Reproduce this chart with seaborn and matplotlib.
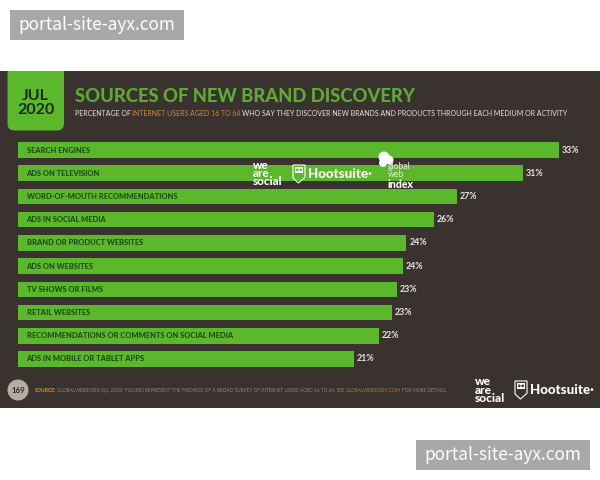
import matplotlib
matplotlib.use("Agg")
import matplotlib.pyplot as plt
import pandas as pd
import seaborn as sns
from matplotlib.patches import Circle, FancyBboxPatch, Polygon, Rectangle

# values
categories = [
    "SEARCH ENGINES",
    "ADS ON TELEVISION",
    "WORD-OF-MOUTH RECOMMENDATIONS",
    "ADS IN SOCIAL MEDIA",
    "BRAND OR PRODUCT WEBSITES",
    "ADS ON WEBSITES",
    "TV SHOWS OR FILMS",
    "RETAIL WEBSITES",
    "RECOMMENDATIONS OR COMMENTS ON SOCIAL MEDIA",
    "ADS IN MOBILE OR TABLET APPS",
]
values = [33.0, 30.8, 26.8, 25.4, 23.7, 23.5, 23.1, 22.8, 22.0, 20.5]
labels = ["33%", "31%", "27%", "26%", "24%", "24%", "23%", "23%", "22%", "21%"]

PANEL = "#3a322e"
GREEN = "#5bb82b"
TITLE_GREEN = "#5cab33"
DARK_TEXT = "#1f4a12"
ORANGE = "#c98a3a"

sns.set_theme(style="white")
plt.rcParams["font.family"] = ["Lato", "DejaVu Sans"]

fig = plt.figure(figsize=(6, 4.8), dpi=100, facecolor="white")

# overlay in pixel coords for the panel, header and logos
bg = fig.add_axes([0, 0, 1, 1], zorder=0)
bg.set_xlim(0, 600)
bg.set_ylim(480, 0)
bg.axis("off")
bg.add_patch(Rectangle((0, 71), 600, 337, fc=PANEL, ec="none"))

top = fig.add_axes([0, 0, 1, 1], zorder=5)
top.set_xlim(0, 600)
top.set_ylim(480, 0)
top.axis("off")
top.patch.set_alpha(0)

# bars
ax_left, ax_right = 18, 590
ax_top, ax_bottom = 138.4, 370.6
ax = fig.add_axes(
    [ax_left / 600, 1 - ax_bottom / 480, (ax_right - ax_left) / 600, (ax_bottom - ax_top) / 480],
    zorder=2,
)
df = pd.DataFrame({"category": categories, "value": values})
sns.barplot(data=df, x="value", y="category", color=GREEN, saturation=1, width=0.67,
            edgecolor="none", linewidth=0, ax=ax)
ax.set_xlim(0, (ax_right - ax_left) / 16.39)
ax.set_ylim(9.5, -0.5)
ax.axis("off")
ax.patch.set_alpha(0)
for i, (cat, val, lab) in enumerate(zip(categories, values, labels)):
    ax.text(0.52, i, cat, color=DARK_TEXT, fontsize=5.4, fontweight="black", va="center", ha="left")
    ax.text(val + 0.17, i, lab, color="#e8e4df", fontsize=6.4, fontweight="bold", va="center", ha="left")

# date badge, top corners pushed above the panel and hidden by a white strip
top.add_patch(FancyBboxPatch((7.5, 55), 56.5, 75.5, boxstyle="round,pad=0,rounding_size=7", fc=GREEN, ec="none"))
top.add_patch(Rectangle((0, 50), 80, 21, fc="white", ec="none"))
top.text(35.5, 95.5, "JUL", color="#1d2a14", fontsize=11.5, fontweight="bold", ha="center", va="center")
top.text(35.5, 110.5, "2020", color="#1d2a14", fontsize=11.5, fontweight="bold", ha="center", va="center")

# title
top.text(75, 97, "SOURCES OF NEW BRAND DISCOVERY", color=TITLE_GREEN, fontsize=13.2, fontweight="black", va="center")


def run_text(x, y, pieces, size):
    # lay out differently coloured pieces one after another
    fig.canvas.draw()
    rend = fig.canvas.get_renderer()
    for s, col in pieces:
        t = top.text(x, y, s, color=col, fontsize=size, va="center", ha="left")
        bb = t.get_window_extent(rend)
        x += bb.width + size * 0.32


run_text(75, 113.5, [
    ("PERCENTAGE OF", "#e6e2dd"),
    ("INTERNET USERS AGED 16 TO 64", ORANGE),
    ("WHO SAY THEY DISCOVER NEW BRANDS AND PRODUCTS THROUGH EACH MEDIUM OR ACTIVITY", "#e6e2dd"),
], 5.0)

# footer
top.add_patch(Circle((18, 390), 10.5, fc="#b5aca4", ec="none"))
top.text(18, 390.5, "169", color="#2e2825", fontsize=5.6, fontweight="bold", ha="center", va="center")
top.text(34.5, 390, "SOURCE:", color=ORANGE, fontsize=3.7, fontweight="black", va="center", ha="left")
run_text(57, 390, [
    ("GLOBALWEBINDEX (Q1 2020). FIGURES REPRESENT THE FINDINGS OF A BROAD SURVEY OF INTERNET USERS AGED 16 TO 64. SEE", "#8f8780"),
    ("GLOBALWEBINDEX.COM", "#a87a35"),
    ("FOR MORE DETAILS.", "#8f8780"),
], 3.38)


def owl(x, y, w, h, eye):
    top.add_patch(Polygon([(x, y), (x + w, y), (x + w, y + h * 0.68), (x + w * 0.45, y + h), (x, y + h * 0.72)],
                          closed=True, fc="none", ec="white", lw=0.8))
    top.add_patch(Rectangle((x + w * 0.18, y + h * 0.12), w * 0.64, h * 0.3, fc="white", ec="none"))
    top.add_patch(Circle((x + w * 0.36, y + h * 0.27), w * 0.11, fc=eye, ec="none"))
    top.add_patch(Circle((x + w * 0.64, y + h * 0.27), w * 0.11, fc=eye, ec="none"))


def logos(x_we, y_we, size, x_owl, y_owl, w_owl, h_owl, x_h, y_h, size_h, eye):
    top.text(x_we, y_we, "we\nare\nsocial", color="white", fontsize=size, fontweight="black",
             va="center", ha="left", linespacing=0.72)
    owl(x_owl, y_owl, w_owl, h_owl, eye)
    top.text(x_h, y_h, "Hootsuite·", color="white", fontsize=size_h, fontweight="black", va="center", ha="left")


# logos over the bars
logos(253, 173.5, 8.4, 293, 165, 12, 18, 308, 173.5, 9.6, GREEN)
top.add_patch(Circle((384, 157), 5.5, fc="white", ec="none"))
top.add_patch(Circle((389, 160), 4.5, fc="white", ec="none"))
top.add_patch(Circle((383, 163), 4, fc="white", ec="none"))
top.text(388, 170.5, "global\nweb", color="#e8e8e0", fontsize=6.2, va="center", ha="left", linespacing=0.85)
top.text(388, 185, "index", color="white", fontsize=7.6, fontweight="black", va="center", ha="left")

# logos in the footer
logos(475, 390, 8.6, 515, 381, 12, 18, 530, 390, 9.6, PANEL)

# watermarks
for x, y, w, h in [(10, 10, 174, 30), (416, 440, 174, 30)]:
    top.add_patch(Rectangle((x, y), w, h, fc="#a8a8a8", ec="none"))
    top.text(x + w / 2, y + h / 2 - 0.5, "portal-site-ayx.com", color="white", fontsize=12.4,
             family=["Noto Sans CJK KR", "DejaVu Sans"], ha="center", va="center")

fig.savefig("out.png", dpi=100, facecolor="white")
